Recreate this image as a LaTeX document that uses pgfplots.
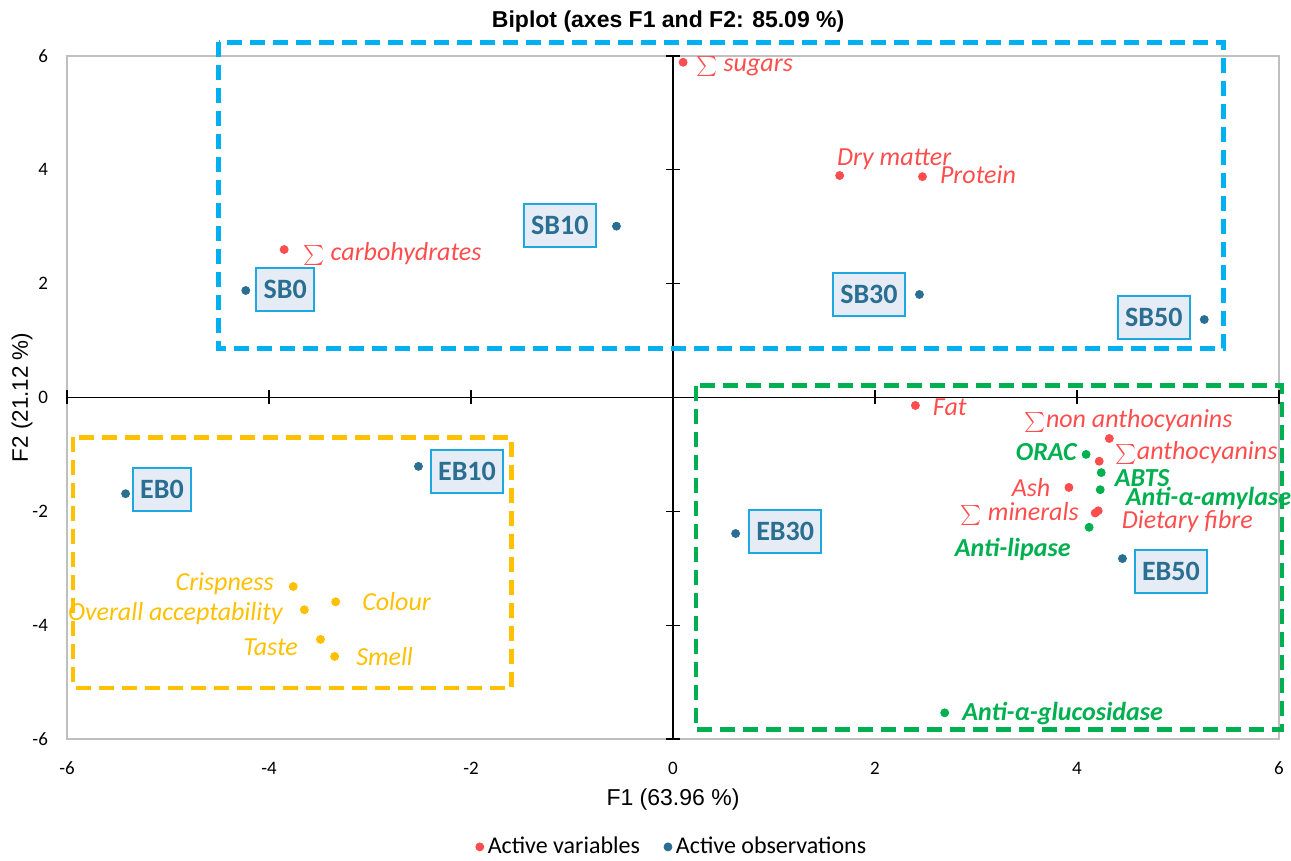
\documentclass[border=0pt]{standalone}
\usepackage{fontspec}
\setmainfont{Carlito}
\newfontfamily\arial{Liberation Sans}
\usepackage{pgfplots}
\pgfplotsset{compat=1.18}
\definecolor{cred}{RGB}{255,77,77}
\definecolor{cblue}{RGB}{42,110,145}
\definecolor{cgreen}{RGB}{0,176,80}
\definecolor{cyellow}{RGB}{255,192,0}
\definecolor{ccyan}{RGB}{0,176,240}
\definecolor{cbox}{RGB}{30,168,224}
\definecolor{boxfill}{RGB}{230,236,246}
\definecolor{cgrid}{RGB}{191,191,191}
\newcommand\sig{{\fontsize{9.5}{9.5}\selectfont$\sum$}}
\tikzset{
  vlab/.style={font=\itshape\fontsize{13}{14}\selectfont, inner sep=0pt, yshift=-1.5pt},
  glab/.style={font=\bfseries\itshape\fontsize{13}{14}\selectfont, inner sep=0pt, text=cgreen, yshift=-1.5pt},
  obs/.style={draw=cbox, line width=1pt, fill=boxfill, text=cblue,
    font=\bfseries\fontsize{14}{15}\selectfont, inner xsep=3.6pt, inner ysep=0pt,
    minimum height=21.5pt, anchor=center},
}
\begin{document}
\begin{tikzpicture}
\path[use as bounding box] (-33.5pt,-61pt) rectangle (612pt,369.5pt);
\begin{axis}[
  at={(0pt,0pt)}, anchor=south west,
  scale only axis, width=606pt, height=341.5pt,
  xmin=-6, xmax=6, ymin=-6, ymax=6,
  xtick={-6,-4,-2,0,2,4,6}, ytick={-6,-4,-2,0,2,4,6},
  major tick length=0pt,
  axis line style={draw=cgrid, line width=0.9pt},
  tick label style={font=\fontsize{9.5}{10}\selectfont},
  xticklabel style={yshift=-8pt},
  yticklabel style={xshift=-6pt},
  /pgf/number format/assume math mode=true,
  clip=false,
  title={Biplot (axes F1 and F2: 85.09 \%)},
  title style={at={(axis description cs:0.496,1.0498)}, anchor=center, yshift=-6pt, font=\arial\bfseries\fontsize{11.5}{13}\selectfont},
  xlabel={F1 (63.96 \%)},
  xlabel style={at={(axis description cs:0.5,-0.0893)}, anchor=center, font=\arial\fontsize{11.5}{13}\selectfont},
  ylabel={F2 (21.12 \%)},
  ylabel style={at={(axis description cs:-0.0371,0.5)}, anchor=center, font=\arial\fontsize{11.2}{13}\selectfont},
  legend style={at={(axis description cs:0.5,-0.158)}, anchor=center, draw=none, legend columns=2,
    font=\fontsize{12}{13}\selectfont, /tikz/every even column/.append style={column sep=10pt}},
  legend cell align=left,
]
% zero lines with ticks
\draw[black, line width=0.8pt] (axis cs:0,-6) -- (axis cs:0,6);
\draw[black, line width=0.8pt] (axis cs:-6,0) -- (axis cs:6,0);
\pgfplotsinvokeforeach{-6,-4,-2,2,4,6}{
  \draw[black, line width=0.6pt] ([xshift=-3.5pt]axis cs:0,#1) -- ([xshift=3.5pt]axis cs:0,#1);
  \draw[black, line width=0.6pt] ([yshift=-3.5pt]axis cs:#1,0) -- ([yshift=3.5pt]axis cs:#1,0);
}
% group rectangles
\draw[ccyan, line width=2.2pt, dash pattern=on 7.5pt off 4pt] (axis cs:-4.50,6.24) rectangle (axis cs:5.45,0.86);
\draw[cyellow, line width=2.2pt, dash pattern=on 7.5pt off 4pt] (axis cs:-5.94,-0.70) rectangle (axis cs:-1.60,-5.10);
\draw[cgreen, line width=2.2pt, dash pattern=on 7.5pt off 4pt] (axis cs:0.23,0.21) rectangle (axis cs:6.03,-5.83);

\addplot[only marks, mark=*, mark size=2pt, color=cred, mark options={draw=cred, fill=cred}] coordinates {
 (0.10,5.89) (1.65,3.90) (2.47,3.88) (-3.85,2.60) (2.40,-0.14)
 (4.32,-0.72) (4.22,-1.12) (3.92,-1.58) (4.18,-2.03) (4.21,-1.99)
};
\addlegendentry{Active variables}
\addplot[only marks, mark=*, mark size=2pt, color=cblue, mark options={draw=cblue, fill=cblue}] coordinates {
 (-4.23,1.88) (-0.56,3.01) (2.44,1.81) (5.26,1.37)
 (-5.42,-1.69) (-2.52,-1.21) (0.62,-2.39) (4.45,-2.83)
};
\addlegendentry{Active observations}
\addplot[forget plot, only marks, mark=*, mark size=2pt, color=cgreen, mark options={draw=cgreen, fill=cgreen}] coordinates {
 (4.09,-1.00) (4.24,-1.32) (4.23,-1.62) (4.12,-2.28) (2.69,-5.54)
};
\addplot[forget plot, only marks, mark=*, mark size=2pt, color=cyellow, mark options={draw=cyellow, fill=cyellow}] coordinates {
 (-3.76,-3.32) (-3.65,-3.73) (-3.34,-3.59) (-3.49,-4.25) (-3.35,-4.55)
};

% variable labels
\node[vlab, text=cred, anchor=mid west] at (axis cs:0.23,5.87) {\sig{} sugars};
\node[vlab, text=cred, anchor=mid] at (axis cs:2.19,4.22) {Dry matter};
\node[vlab, text=cred, anchor=mid west] at (axis cs:2.64,3.90) {Protein};
\node[vlab, text=cred, anchor=mid west] at (axis cs:-3.66,2.55) {\sig{} carbohydrates};
\node[vlab, text=cred, anchor=mid west] at (axis cs:2.57,-0.18) {Fat};
\node[vlab, text=cred, anchor=mid west] at (axis cs:3.48,-0.39) {\sig{}non anthocyanins};
\node[vlab, text=cred, anchor=mid west] at (axis cs:4.38,-0.95) {\sig{}anthocyanins};
\node[glab, anchor=mid east] at (axis cs:4.00,-0.97) {ORAC};
\node[glab, anchor=mid west] at (axis cs:4.37,-1.42) {ABTS};
\node[glab, anchor=mid west] at (axis cs:4.48,-1.76) {Anti-α-amylase};
\node[vlab, text=cred, anchor=mid east] at (axis cs:3.74,-1.60) {Ash};
\node[vlab, text=cred, anchor=mid east] at (axis cs:4.02,-2.02) {\sig{} minerals};
\node[vlab, text=cred, anchor=mid west] at (axis cs:4.44,-2.16) {Dietary fibre};
\node[glab, anchor=mid east] at (axis cs:3.94,-2.65) {Anti-lipase};
\node[glab, anchor=mid west] at (axis cs:2.86,-5.54) {Anti-α-glucosidase};
\node[vlab, text=cyellow, anchor=mid east] at (axis cs:-3.95,-3.25) {Crispness};
\node[vlab, text=cyellow, anchor=mid east] at (axis cs:-3.86,-3.78) {Overall acceptability};
\node[vlab, text=cyellow, anchor=mid west] at (axis cs:-3.08,-3.60) {Colour};
\node[vlab, text=cyellow, anchor=mid east] at (axis cs:-3.71,-4.39) {Taste};
\node[vlab, text=cyellow, anchor=mid west] at (axis cs:-3.14,-4.57) {Smell};

% observation labels
\node[obs] at (axis cs:-3.84,1.90) {SB0};
\node[obs] at (axis cs:-1.12,3.02) {SB10};
\node[obs] at (axis cs:1.94,1.81) {SB30};
\node[obs] at (axis cs:4.76,1.41) {SB50};
\node[obs] at (axis cs:-5.06,-1.62) {EB0};
\node[obs] at (axis cs:-2.04,-1.30) {EB10};
\node[obs] at (axis cs:1.11,-2.36) {EB30};
\node[obs] at (axis cs:4.93,-3.06) {EB50};
\end{axis}
\end{tikzpicture}
\end{document}
